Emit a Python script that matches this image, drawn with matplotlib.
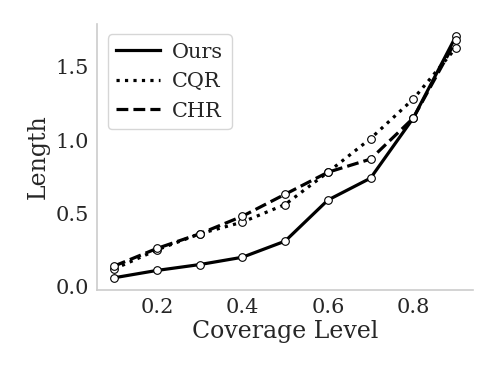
import matplotlib
matplotlib.use("Agg")
import matplotlib.pyplot as plt
from matplotlib.lines import Line2D

# Nivel de cobertura y longitudes medias de los intervalos
coverage = [0.1, 0.2, 0.3, 0.4, 0.5, 0.6, 0.7, 0.8, 0.9]
ours = [0.06, 0.11, 0.15, 0.20, 0.31, 0.59, 0.74, 1.15, 1.71]
cqr = [0.12, 0.25, 0.36, 0.44, 0.56, 0.78, 1.01, 1.28, 1.63]
chr_ = [0.14, 0.26, 0.36, 0.48, 0.63, 0.78, 0.87, 1.15, 1.68]
names = ["Ours", "CQR", "CHR"]
styles = ["-", ":", "--"]

plt.rcParams["font.family"] = "DejaVu Serif"
plt.rcParams["text.color"] = "0.15"
plt.rcParams["axes.labelcolor"] = "0.15"
plt.rcParams["xtick.color"] = "0.15"
plt.rcParams["ytick.color"] = "0.15"

fig, ax = plt.subplots(figsize=(4.98, 3.74), dpi=100)
fig.subplots_adjust(left=0.195, right=0.95, bottom=0.225, top=0.936)

mk = dict(marker="o", markersize=5.5, markerfacecolor="white",
          markeredgecolor="black", markeredgewidth=0.8, color="black", lw=2.3)
for ys, ls in zip([ours, cqr, chr_], styles):
    ax.plot(coverage, ys, linestyle=ls, **mk)

ax.set_xticks([0.2, 0.4, 0.6, 0.8])
ax.set_yticks([0.0, 0.5, 1.0, 1.5])
ax.tick_params(length=0, labelsize=15, pad=6)
ax.set_xlabel("Coverage Level", fontsize=17, labelpad=2)
ax.set_ylabel("Length", fontsize=17, labelpad=4)

for s in ["top", "right"]:
    ax.spines[s].set_visible(False)
for s in ["left", "bottom"]:
    ax.spines[s].set_color("0.8")
    ax.spines[s].set_linewidth(1.2)

# leyenda sin marcadores
handles = [Line2D([], [], color="black", lw=2.3, linestyle=ls) for ls in styles]
ax.legend(handles, names, loc="upper left", fontsize=15, handlelength=2.1,
          handletextpad=0.6, frameon=True, edgecolor="0.8",
          borderaxespad=0.5, labelspacing=0.5)

plt.savefig("out.png")
